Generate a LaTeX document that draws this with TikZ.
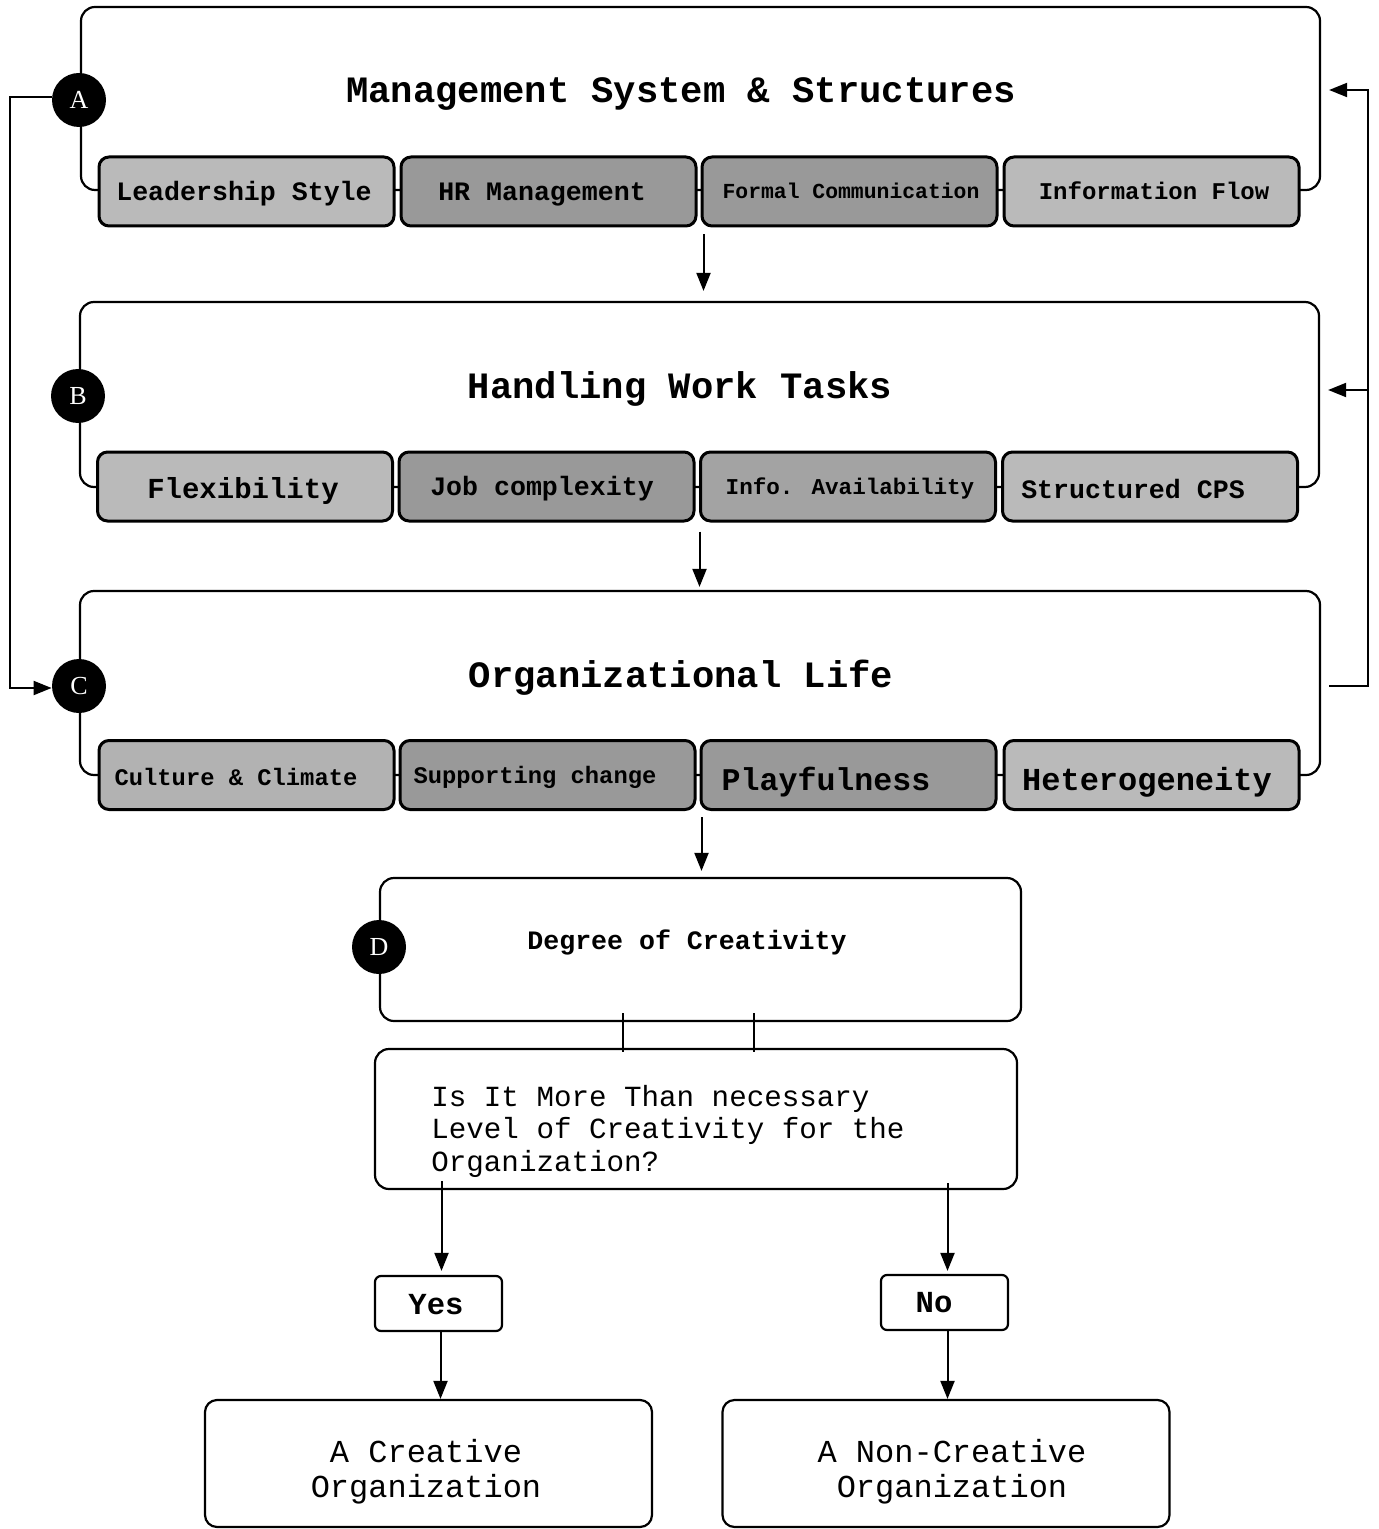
\documentclass[tikz,border=0pt]{standalone}
\usepackage{fontspec}
\setmainfont{Liberation Mono}
\newfontfamily\circfont{Liberation Serif}
\usetikzlibrary{arrows.meta,calc}
\begin{document}
\begin{tikzpicture}[x=0.5pt,y=-0.5pt,
  bigbox/.style 2 args={draw,line width=1.1pt,rounded corners=7pt,minimum width=#1,minimum height=#2,inner sep=0pt,fill=white},
  subbox/.style={draw,line width=1.5pt,rounded corners=5pt,minimum width=147.5pt,minimum height=34.5pt,inner sep=0pt,fill=#1},
  circ/.style={circle,fill=black,minimum size=27pt,inner sep=0pt,text=white,font=\circfont\fontsize{13}{13}\selectfont},
  ttl/.style={font=\fontsize{18.6}{20}\selectfont\bfseries},
  sub/.style={font=\fontsize{#1}{#1}\selectfont\bfseries},
  arr/.style={-{Triangle[length=9pt,width=7pt]},line width=1pt},
  ln/.style={line width=1pt},
  smallbox/.style={draw,line width=1.1pt,rounded corners=3pt,minimum width=63.5pt,minimum height=27.5pt,inner sep=0pt},
  smalltxt/.style={font=\fontsize{15.3}{16}\selectfont\bfseries},
  endbox/.style={draw,line width=1.1pt,rounded corners=6pt,minimum width=223.5pt,minimum height=63.5pt,inner sep=0pt},
  endtxt/.style={align=center,inner sep=0pt,font=\fontsize{16}{17.5}\selectfont}
]
\useasboundingbox (0,0) rectangle (1378,1529);

% ---------- A ----------
\node[bigbox={619.5pt}{91.5pt}] (boxA) at (700.5,98.5) {};
\node[ttl] (tA) at (681,94) {Management System \& Structures};
\node[subbox=black!27] (a1) at (246.5,191.5) {};
\node[subbox=black!40] (a2) at (548.5,191.5) {};
\node[subbox=black!40] (a3) at (849.5,191.5) {};
\node[subbox=black!27] (a4) at (1151.5,191.5) {};
\node[sub=13.3] (la1) at (244,194) {Leadership Style};
\node[sub=13.3] (la2) at (542,194) {HR Management};
\node[sub=10.7] (la3) at (851,191) {Formal Communication};
\node[sub=12] (la4) at (1154,191) {Information Flow};
\node[circ] (cA) at (79,100) {A};

% ---------- B ----------
\node[bigbox={619.5pt}{92.5pt}] (boxB) at (699.5,394.5) {};
\node[ttl] (tB) at (680,389) {Handling Work Tasks};
\node[subbox=black!27] (b1) at (245,486.5) {};
\node[subbox=black!40] (b2) at (546.5,486.5) {};
\node[subbox=black!36] (b3) at (848,486.5) {};
\node[subbox=black!27] (b4) at (1150,486.5) {};
\node[sub=14.5] (lb1) at (243,491) {Flexibility};
\node[sub=13.3] (lb2) at (542,489) {Job complexity};
\node[sub=11.3] (lb3) at (850,488) {Info. Availability};
\node[sub=13.3] (lb4) at (1133,489) {Structured CPS};
\node[circ] (cB) at (78,396) {B};

% ---------- C ----------
\node[bigbox={620pt}{92pt}] (boxC) at (700,683) {};
\node[ttl] (tC) at (681,678) {Organizational Life};
\node[subbox=black!30] (c1) at (246.5,775) {};
\node[subbox=black!40] (c2) at (547.5,775) {};
\node[subbox=black!40] (c3) at (848.5,775) {};
\node[subbox=black!27] (c4) at (1151.5,775) {};
\node[sub=11.9] (lc1) at (236,777) {Culture \& Climate};
\node[sub=11.9] (lc2) at (535,777) {Supporting change};
\node[sub=15.8] (lc3) at (826,782) {Playfulness};
\node[sub=16] (lc4) at (1147,782) {Heterogeneity};
\node[circ] (cC) at (79,686) {C};

% ---------- D ----------
\node[bigbox={320.5pt}{71.5pt}] (boxD) at (700.5,949.5) {};
\node[font=\fontsize{13.3}{14}\selectfont\bfseries] (tD) at (687,942) {Degree of Creativity};
\node[circ] (cD) at (379,947) {D};

% ---------- Question ----------
\node[bigbox={321pt}{70pt}] (boxQ) at (696,1119) {};
\node[anchor=west,align=left,inner sep=0pt,font=\fontsize{14.6}{16.25}\selectfont] (tQ) at (431,1131) {Is It More Than necessary\\Level of Creativity for the\\Organization?};

\draw[ln] ($(boxD.south)+(-77.5,-9)$) -- ($(boxQ.north)+(-73,4)$);
\draw[ln] ($(boxD.south)+(53.5,-9)$) -- ($(boxQ.north)+(58,4)$);

% ---------- Yes / No ----------
\node[smallbox] (yes) at (438.5,1303.5) {};
\node[smalltxt] (yesT) at (436,1305) {Yes};
\node[smallbox] (no) at (944.5,1302.5) {};
\node[smalltxt] (noT) at (934,1303) {No};
\node[endbox] (cr) at (428.5,1463.5) {};
\node[endtxt] (crT) at (426,1472) {A Creative\\Organization};
\node[endbox] (ncr) at (946,1463.5) {};
\node[endtxt] (ncrT) at (952,1472) {A Non-Creative\\Organization};

% ---------- connectors ----------
\draw[arr] ([xshift=3pt,yshift=-3.5pt]a2.south east) -- ([xshift=3pt,yshift=5pt]a2.south east |- boxB.north);
\draw[arr] ([xshift=2pt,yshift=-4.5pt]b2.south east) -- ([xshift=2pt,yshift=1.5pt]b2.south east |- boxC.north);
\draw[arr] ([xshift=2.5pt,yshift=-3pt]c2.south east) -- ([xshift=2.5pt,yshift=3pt]c2.south east |- boxD.north);

\draw[arr] ([yshift=1.5pt]cA.west) -- ++(-42,0) |- ([yshift=-1pt]cC.west);

\coordinate (rt) at ($(boxC.east)+(47,3)$);
\draw[arr] ([xshift=4pt,yshift=-1.5pt]boxC.east) -- (rt) |- ([xshift=4pt,yshift=2pt]tA -| boxA.east);
\draw[arr] ([yshift=-0.5pt]rt |- tB) -- ([xshift=4pt,yshift=-0.5pt]tB -| boxB.east);

\draw[arr] ([xshift=1.5pt,yshift=4.5pt]yes.north |- boxQ.south) -- ([xshift=1.5pt,yshift=2pt]yes.north);
\draw[arr] ([xshift=1.5pt,yshift=3.5pt]no.north |- boxQ.south) -- ([xshift=1.5pt,yshift=1.5pt]no.north);
\draw[arr] ([xshift=1pt]yes.south) -- ([xshift=1pt]yes.south |- cr.north);
\draw[arr] ([xshift=1.5pt]no.south) -- ([xshift=1.5pt]no.south |- ncr.north);
\end{tikzpicture}
\end{document}
